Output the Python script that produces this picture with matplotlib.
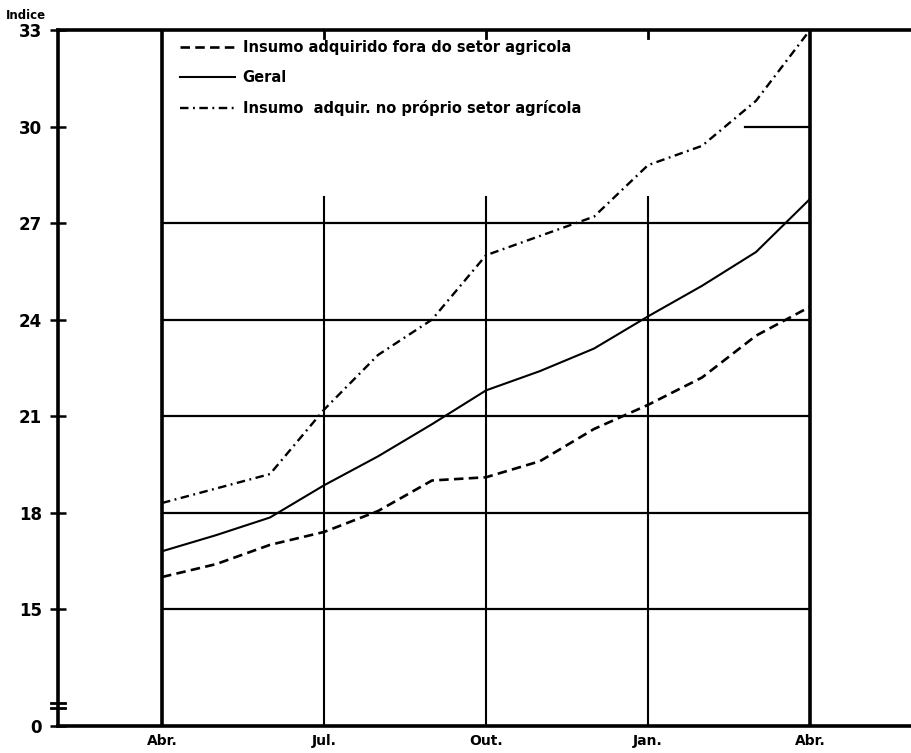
import numpy as np
import matplotlib.pyplot as plt

# data (index, monthly from Abr to Abr)
meses = ["Abr", "Mai", "Jun", "Jul", "Ago", "Set", "Out", "Nov", "Dez", "Jan", "Fev", "Mar", "Abr"]
fora_setor = [16.0, 16.4, 17.0, 17.4, 18.05, 19.0, 19.1, 19.6, 20.6, 21.35, 22.2, 23.5, 24.4]
geral = [16.8, 17.3, 17.85, 18.85, 19.75, 20.75, 21.8, 22.4, 23.1, 24.1, 25.05, 26.1, 27.75]
proprio_setor = [18.3, 18.75, 19.2, 21.2, 22.9, 24.0, 26.0, 26.6, 27.2, 28.8, 29.4, 30.8, 33.0]

xtick_pos = [0, 3, 6, 9, 12]
xtick_labels = ["Abr.", "Jul.", "Out.", "Jan.", "Abr."]
ytick_values = [0, 15, 18, 21, 24, 27, 30, 33]
grid_values = [15, 18, 21, 24, 27]

# the axis is broken between 0 and 15: zero is drawn at Y0
Y0 = 11.37

plt.rcParams['font.family'] = ['DejaVu Sans']
plt.rcParams['font.weight'] = 'bold'

fig = plt.figure(figsize=(9.11, 7.53), dpi=100)
ax = fig.add_axes([58/911, 1-726/753, 853/911, 696/753])

x = np.arange(len(meses))

# grid
for v in grid_values:
    ax.plot([0, 12], [v, v], color="k", lw=1.6, zorder=1)
ax.plot([10.8, 12], [30, 30], color="k", lw=1.6, zorder=1)
ax.plot([0, 0], [Y0, 33], color="k", lw=2.6, zorder=1)
ax.plot([12, 12], [Y0, 33], color="k", lw=2.6, zorder=1)
for xp in [3, 6, 9]:
    ax.plot([xp, xp], [Y0, 27.8], color="k", lw=1.5, zorder=1)
    # small tick on top border
    ax.plot([xp, xp], [33, 32.75], color="k", lw=2, zorder=1)

ax.plot(x, fora_setor, color="k", lw=1.9, dashes=(3.6, 2.0),
        label="Insumo adquirido fora do setor agricola")
ax.plot(x, geral, color="k", lw=1.5, label="Geral")
ax.plot(x, proprio_setor, color="k", lw=1.7, dashes=(3.6, 1.9, 0.8, 1.9),
        label="Insumo  adquir. no próprio setor agrícola")

ax.set_xlim(-1.926, 13.87)
ax.set_ylim(Y0, 33)

ax.set_xticks(xtick_pos)
ax.set_xticklabels(xtick_labels, fontsize=10, fontweight='bold')
ax.tick_params(axis='x', length=0, pad=6)

ax.set_yticks([Y0 if v == 0 else v for v in ytick_values])
ax.set_yticklabels([str(v) for v in ytick_values], fontsize=12, fontweight='bold')
ax.tick_params(axis='y', direction='inout', length=11, width=1.8, pad=6)

for s in ["left", "bottom", "top"]:
    ax.spines[s].set_linewidth(2.6)
ax.spines["right"].set_visible(False)

# axis break marks
for yb in [11.93, 12.1]:
    ax.plot([-0.008, 0.008], [yb, yb], color="k", lw=2,
            transform=ax.get_yaxis_transform(), clip_on=False)

ax.text(-0.014, 1.021, "Indice", transform=ax.transAxes, ha="right", va="center",
        fontsize=8.5, fontweight='bold')

ax.legend(loc="upper left", bbox_to_anchor=(0.143, 0.985), frameon=False,
          handlelength=3.8, handletextpad=0.5, labelspacing=1.0,
          borderpad=0, borderaxespad=0, prop={'weight': 'bold', 'size': 10.5})

plt.savefig("out.png", dpi=100)
